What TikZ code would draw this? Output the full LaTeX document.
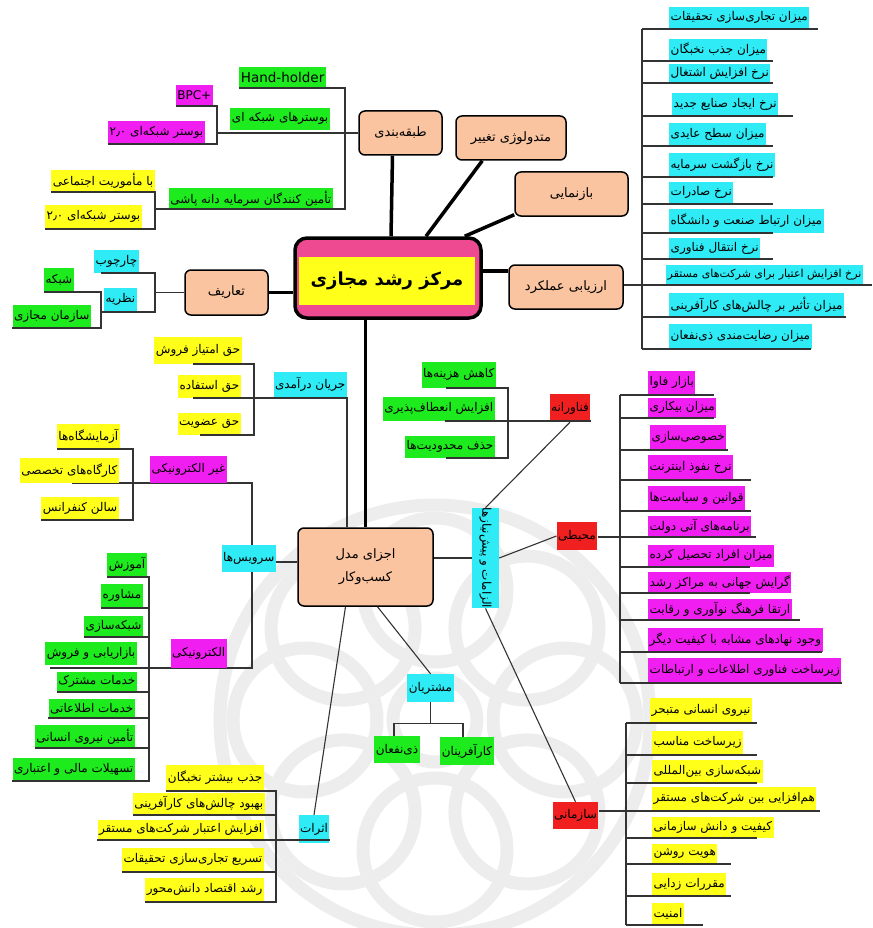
\documentclass[tikz,border=0pt]{standalone}
\usepackage{fontspec}
\usepackage{graphicx}
\setmainfont{DejaVu Sans}
\newfontfamily\farsi[Script=Arabic]{DejaVu Sans}
\TeXXeTstate=1
\usetikzlibrary{calc}
\pgfdeclarelayer{bg}
\pgfdeclarelayer{under}
\pgfsetlayers{bg,under,main}
\newcommand\fa[1]{\beginR #1\endR}
\definecolor{cy}{HTML}{2EEBF5}
\definecolor{gr}{HTML}{1EEB1E}
\definecolor{ye}{HTML}{FFFF1A}
\definecolor{mg}{HTML}{F01EF0}
\definecolor{rd}{HTML}{F02020}
\definecolor{pe}{HTML}{F9C49F}
\definecolor{pk}{HTML}{EE4A92}
\definecolor{lc}{HTML}{333333}
\tikzset{
 lab/.style={inner xsep=1.5pt, inner ysep=0pt, font=\farsi\fontsize{12}{14}\selectfont},
 lE/.style={lab, anchor=south east},
 lW/.style={lab, anchor=south west},
 obox/.style={draw=black, line width=1.5pt, rounded corners=6pt, fill=pe, inner sep=0pt, font=\farsi\fontsize{13}{15}\selectfont},
 tn/.style={draw=lc, line width=1.1pt},
 tk/.style={draw=black, line width=3.5pt},
}
\begin{document}
\begin{tikzpicture}[x=1pt,y=-1pt]
\useasboundingbox (0,0) rectangle (872,928);
\clip (0,0) rectangle (872,928);

% watermark
\begin{pgfonlayer}{bg}
\begin{scope}[black!7, line width=13pt]
\draw (435,720) circle (215);
\foreach \a in {0,45,...,315} \draw ($(435,720)+(\a:130)$) circle (72);
\draw (435,720) circle (42);
\end{scope}
\end{pgfonlayer}

% centre
\node[draw=black, line width=3.5pt, fill=pk, rounded corners=12pt, minimum width=186, minimum height=80] (cn) at (388,278) {};
\node[fill=ye, minimum width=176, minimum height=48, inner sep=0pt, font=\farsi\bfseries\fontsize{18}{22}\selectfont] (ci) at (387,281) {\fa{مرکز رشد مجازی}};

% main branches
\node[obox, minimum width=83, minimum height=44] (tb) at (400.5,133) {\fa{طبقه^^^^200cبندی}};
\node[obox, minimum width=110, minimum height=44] (mt) at (511,138) {\fa{متدولوژی تغییر}};
\node[obox, minimum width=113, minimum height=44] (bz) at (571.5,194) {\fa{بازنمایی}};
\node[obox, minimum width=114, minimum height=44] (az) at (566,287) {\fa{ارزیابی عملکرد}};
\node[obox, minimum width=83, minimum height=45] (ta) at (226.5,292.5) {\fa{تعاریف}};
\node[obox, minimum width=135, minimum height=78, align=center] (aj) at (365.5,567) {\fa{اجزای مدل}\\[8pt]\fa{کسب^^^^200cوکار}};

\draw[tk] ($(tb.south)+(-8,0)$) -- ($(cn.north)+(3,0)$);
\draw[tk] ($(mt.south west)+(27,0)$) -- ($(cn.north)+(38,0)$);
\draw[tk] ($(bz.south west)+(0,-2)$) -- ($(cn.north east)+(-18,0)$);
\draw[tk] (cn.east |- 0,271) -- (az.west |- 0,271);
\draw[tk] (ta.east) -- (ta.east -| cn.west);
\draw[tk] (aj.north) -- (aj.north |- cn.south);

% top-left
\node[lE, fill=gr, minimum height=21, font=\farsi\fontsize{13.5}{15}\selectfont] (hh) at (326,88) {Hand-holder};
\node[lE, fill=gr, minimum height=22] (bn) at (330,130) {\fa{بوسترهای شبکه ای}};
\node[lE, fill=gr, minimum height=21] (tm) at (333,209) {\fa{تأمین کنندگان سرمایه دانه پاشی}};
\node[lE, fill=mg, minimum height=21] (bpc) at (213,106) {BPC+};
\node[lE, fill=mg, minimum height=23] (bm) at (205,144) {\fa{بوستر شبکه^^^^200cای \beginL۲٫۰\endL}};
\node[lE, fill=ye, minimum height=22] (ba) at (155,192) {\fa{با مأموریت اجتماعی}};
\node[lE, fill=ye, minimum height=24] (by) at (142,229) {\fa{بوستر شبکه^^^^200cای \beginL۲٫۰\endL}};
\draw[tn] (hh.south west) -- (hh.south -| 345,0) -- (tm.south -| 345,0) -- (tm.south -| 155,0);
\draw[tn] (tb.west) -- (tb.west -| 217,0);
\draw[tn] (bpc.south west) -- (bpc.south -| 217,0) -- (bm.south -| 217,0) -- (bm.south west);
\draw[tn] (ba.south west) -- (ba.south -| 155,0) -- (by.south -| 155,0) -- (by.south west);

% definitions
\node[lE, fill=cy, minimum height=23] (chj) at (139,273) {\fa{چارچوب}};
\node[lE, fill=cy, minimum height=24] (nz) at (137,312) {\fa{نظریه}};
\node[lE, fill=gr, minimum height=24] (sb) at (74,292) {\fa{شبکه}};
\node[lE, fill=gr, minimum height=23] (sm) at (91,328) {\fa{سازمان مجازی}};
\draw[tn] (ta.west) -- (ta.west -| 155,0);
\draw[tn] (chj.south -| 101,0) -- (chj.south -| 155,0) -- (nz.south -| 155,0) -- (nz.south -| 101,0);
\draw[tn] (sb.south west) -- (sb.south -| 101,0) -- (sm.south -| 101,0) -- (sm.south west);

% revenue
\node[lE, fill=cy, minimum height=26] (jd) at (347,398) {\fa{جریان درآمدی}};
\node[lE, fill=ye, minimum height=27] (ha) at (242,364) {\fa{حق امتیاز فروش}};
\node[lE, fill=ye, minimum height=23] (hs) at (241,398) {\fa{حق استفاده}};
\node[lE, fill=ye, minimum height=22] (he) at (241,435) {\fa{حق عضویت}};
\draw[tn] (ha.south -| 193,0) -- (ha.south -| 254,0) -- (he.south -| 254,0) -- (he.south -| 200,0);
\draw[tn] (hs.south -| 193,0) -- (jd.south east) -- (jd.south east |- aj.north);

% services
\node[lE, fill=cy, minimum height=27] (sv) at (276,572) {\fa{سرویس^^^^200cها}};
\node[lE, fill=mg, minimum height=27] (gh) at (227,483) {\fa{غیر الکترونیکی}};
\node[lE, fill=mg, minimum height=29] (el) at (227,668) {\fa{الکترونیکی}};
\node[lE, fill=ye, minimum height=25] (az1) at (120,449) {\fa{آزمایشگاه^^^^200cها}};
\node[lE, fill=ye, minimum height=25] (kt) at (119,483) {\fa{کارگاه^^^^200cهای تخصصی}};
\node[lE, fill=ye, minimum height=23] (sk) at (119,520) {\fa{سالن کنفرانس}};
\node[lE, fill=gr, minimum height=24] (am) at (147,577) {\fa{آموزش}};
\node[lE, fill=gr, minimum height=24] (ms) at (143,608) {\fa{مشاوره}};
\node[lE, fill=gr, minimum height=21] (shs) at (143,637) {\fa{شبکه^^^^200cسازی}};
\node[lE, fill=gr, minimum height=23] (bf) at (137,665) {\fa{بازاریابی و فروش}};
\node[lE, fill=gr, minimum height=20] (hm) at (137,692) {\fa{خدمات مشترک}};
\node[lE, fill=gr, minimum height=19] (ht) at (135,718) {\fa{خدمات اطلاعاتی}};
\node[lE, fill=gr, minimum height=23] (tnn) at (135,748) {\fa{تأمین نیروی انسانی}};
\node[lE, fill=gr, minimum height=23] (tsh) at (135,781) {\fa{تسهیلات مالی و اعتباری}};
\draw[tn] (sv.east |- 0,562) -- (aj.west |- 0,562);
\begin{pgfonlayer}{under}
\draw[tn] (gh.south -| 72,0) -- (gh.south -| 252,0) -- (el.south -| 252,0) -- (el.south -| 50,0);
\end{pgfonlayer}
\draw[tn] (az1.south west) -- (az1.south -| 133,0) -- (sk.south -| 133,0) -- (sk.south west);
\draw[tn] (am.south west) -- (am.south -| 149,0) -- (tsh.south -| 149,0) -- (tsh.south west);
\foreach \n in {ms,shs,hm,ht,tnn} \draw[tn] (\n.south west) -- (\n.south -| 149,0);

% performance evaluation list
\node[lW, fill=cy, minimum height=22] (m1) at (669,29) {\fa{میزان تجاری^^^^200cسازی تحقیقات}};
\node[lW, fill=cy, minimum height=22] (m2) at (669,61) {\fa{میزان جذب نخبگان}};
\node[lW, fill=cy, minimum height=19] (m3) at (669,83) {\fa{نرخ افزایش اشتغال}};
\node[lW, fill=cy, minimum height=23] (m4) at (672,116) {\fa{نرخ ایجاد صنایع جدید}};
\node[lW, fill=cy, minimum height=23] (m5) at (669,146) {\fa{میزان سطح عایدی}};
\node[lW, fill=cy, minimum height=24] (m6) at (669,177) {\fa{نرخ بازگشت سرمایه}};
\node[lW, fill=cy, minimum height=22] (m7) at (669,204) {\fa{نرخ صادرات}};
\node[lW, fill=cy, minimum height=24] (m8) at (669,233) {\fa{میزان ارتباط صنعت و دانشگاه}};
\node[lW, fill=cy, minimum height=21] (m9) at (669,259) {\fa{نرخ انتقال فناوری}};
\node[lW, fill=cy, minimum height=20, font=\farsi\fontsize{11}{13}\selectfont] (m10) at (666,285) {\fa{نرخ افزایش اعتبار برای شرکت^^^^200cهای مستقر}};
\node[lW, fill=cy, minimum height=24] (m11) at (669,317) {\fa{میزان تأثیر بر چالش^^^^200cهای کارآفرینی}};
\node[lW, fill=cy, minimum height=25] (m12) at (669,349) {\fa{میزان رضایت^^^^200cمندی ذی^^^^200cنفعان}};
\draw[tn] (m1.south -| 642,0) -- (m12.south -| 642,0);
\foreach \n/\e in {m1/818,m2/773,m3/773,m4/793,m5/773,m6/773,m7/773,m8/773,m9/773,m10/872,m11/846,m12/811}
  \draw[tn] (\n.south -| 642,0) -- (\n.south -| \e,0);
\draw[tn] (m10.south -| az.east) -- (m10.south -| 642,0);

% technology
\node[lE, fill=gr, minimum height=26] (kh) at (496,388) {\fa{کاهش هزینه^^^^200cها}};
\node[lE, fill=gr, minimum height=24] (af) at (495,421) {\fa{افزایش انعطاف^^^^200cپذیری}};
\node[lE, fill=gr, minimum height=22] (hz) at (495,458) {\fa{حذف محدودیت^^^^200cها}};
\node[lab, fill=rd, minimum width=36, minimum height=28] (fn) at (570,408) {\fa{فناورانه}};
\draw[tn] (kh.south -| 446,0) -- (kh.south -| 508,0) -- (hz.south -| 508,0) -- (hz.south -| 446,0);
\draw[tn] (af.south -| 445,0) -- (af.south -| fn.east);

% requirements
\node[lab, fill=cy, minimum width=27, minimum height=100] (ap) at (485.5,558) {\rotatebox{-90}{\fa{الزامات و پیش^^^^200cنیازها}}};
\node[lab, fill=rd, minimum width=36, minimum height=28] (mh) at (577,536) {\fa{محیطی}};
\node[lab, fill=rd, minimum width=39, minimum height=27] (sz) at (575.5,815.5) {\fa{سازمانی}};
\draw[tn] (fn.south) -- (ap.north);
\draw[tn] (mh.west) -- (ap.east);
\draw[tn] (ap.west) -- (ap.west -| aj.east);
\draw[tn] (ap.south) -- (sz.north);

% environmental list
\node[lW, fill=mg, minimum height=24] (p1) at (648,395) {\fa{بازار فاوا}};
\node[lW, fill=mg, minimum height=20] (p2) at (648,418) {\fa{میزان بیکاری}};
\node[lW, fill=mg, minimum height=25] (p3) at (650,450) {\fa{خصوصی^^^^200cسازی}};
\node[lW, fill=mg, minimum height=25] (p4) at (648,480) {\fa{نرخ نفوذ اینترنت}};
\node[lW, fill=mg, minimum height=25] (p5) at (648,511) {\fa{قوانین و سیاست^^^^200cها}};
\node[lW, fill=mg, minimum height=21] (p6) at (648,537) {\fa{برنامه^^^^200cهای آتی دولت}};
\node[lW, fill=mg, minimum height=22] (p7) at (648,567) {\fa{میزان افراد تحصیل کرده}};
\node[lW, fill=mg, minimum height=21] (p8) at (648,593) {\fa{گرایش جهانی به مراکز رشد}};
\node[lW, fill=mg, minimum height=21] (p9) at (648,620) {\fa{ارتقا فرهنگ نوآوری و رقابت}};
\node[lW, fill=mg, minimum height=24] (p10) at (648,652) {\fa{وجود نهادهای مشابه با کیفیت دیگر}};
\node[lW, fill=mg, minimum height=25] (p11) at (648,683) {\fa{زیرساخت فناوری اطلاعات و ارتباطات}};
\draw[tn] (p1.south -| 620,0) -- (p11.south -| 620,0);
\foreach \n/\e in {p1/714,p2/714,p3/728,p4/751,p5/751,p6/756,p7/750,p8/750,p9/800,p10/822,p11/842}
  \draw[tn] (\n.south -| 620,0) -- (\n.south -| \e,0);
\draw[tn] (mh.east |- p6.south) -- (p6.south -| 620,0);

% organisational list
\node[lW, fill=ye, minimum height=25] (o1) at (650,723) {\fa{نیروی انسانی متبحر}};
\node[lW, fill=ye, minimum height=24] (o2) at (652,755) {\fa{زیرساخت مناسب}};
\node[lW, fill=ye, minimum height=23] (o3) at (652,783) {\fa{شبکه^^^^200cسازی بین^^^^200cالمللی}};
\node[lW, fill=ye, minimum height=24] (o4) at (652,811) {\fa{هم^^^^200cافزایی بین شرکت^^^^200cهای مستقر}};
\node[lW, fill=ye, minimum height=21] (o5) at (652,838) {\fa{کیفیت و دانش سازمانی}};
\node[lW, fill=ye, minimum height=20] (o6) at (652,864) {\fa{هویت روشن}};
\node[lW, fill=ye, minimum height=23] (o7) at (652,896) {\fa{مقررات زدایی}};
\node[lW, fill=ye, minimum height=22] (o8) at (652,925) {\fa{امنیت}};
\draw[tn] (o1.south -| 626,0) -- (o8.south -| 626,0);
\foreach \n/\e in {o1/757,o2/757,o3/757,o4/820,o5/757,o6/731,o7/731,o8/703}
  \draw[tn] (\n.south -| 626,0) -- (\n.south -| \e,0);
\draw[tn] (sz.east |- o4.south) -- (o4.south -| 626,0);

% customers
\node[lab, fill=cy, minimum width=39, minimum height=28] (mo) at (430.5,688) {\fa{مشتریان}};
\node[lab, fill=gr, minimum width=42, minimum height=27] (zn) at (397,749.5) {\fa{ذی^^^^200cنفعان}};
\node[lab, fill=gr, minimum width=54, minimum height=28] (ka) at (467,751) {\fa{کارآفرینان}};
\draw[tn] ($(aj.south)+(12,0)$) -- (mo.north);
\draw[tn] (mo.south) -- ++(0,21) coordinate (mb);
\draw[tn] ([xshift=-3pt]zn.north) |- (mb) -| ([xshift=-4pt]ka.north);

% effects
\node[lab, fill=cy, minimum width=28, minimum height=28] (as) at (314,829) {\fa{اثرات}};
\node[lE, fill=ye, minimum height=26] (e1) at (264,791) {\fa{جذب بیشتر نخبگان}};
\node[lE, fill=ye, minimum height=22] (e2) at (265,815) {\fa{بهبود چالش^^^^200cهای کارآفرینی}};
\node[lE, fill=ye, minimum height=20] (e3) at (264,840) {\fa{افزایش اعتبار شرکت^^^^200cهای مستقر}};
\node[lE, fill=ye, minimum height=24] (e4) at (264,872) {\fa{تسریع تجاری^^^^200cسازی تحقیقات}};
\node[lE, fill=ye, minimum height=24] (e5) at (264,902) {\fa{رشد اقتصاد دانش^^^^200cمحور}};
\draw[tn] ($(aj.south)+(-20,0)$) -- (as.north);
\draw[tn] (e1.south west) -- (e1.south -| 276,0) -- (e5.south -| 276,0) -- (e5.south west);
\draw[tn] (e2.south west) -- (e2.south -| 276,0);
\draw[tn] (e4.south west) -- (e4.south -| 276,0);
\draw[tn] (e3.south west) -- (e3.south -| as.east);
\end{tikzpicture}
\end{document}
